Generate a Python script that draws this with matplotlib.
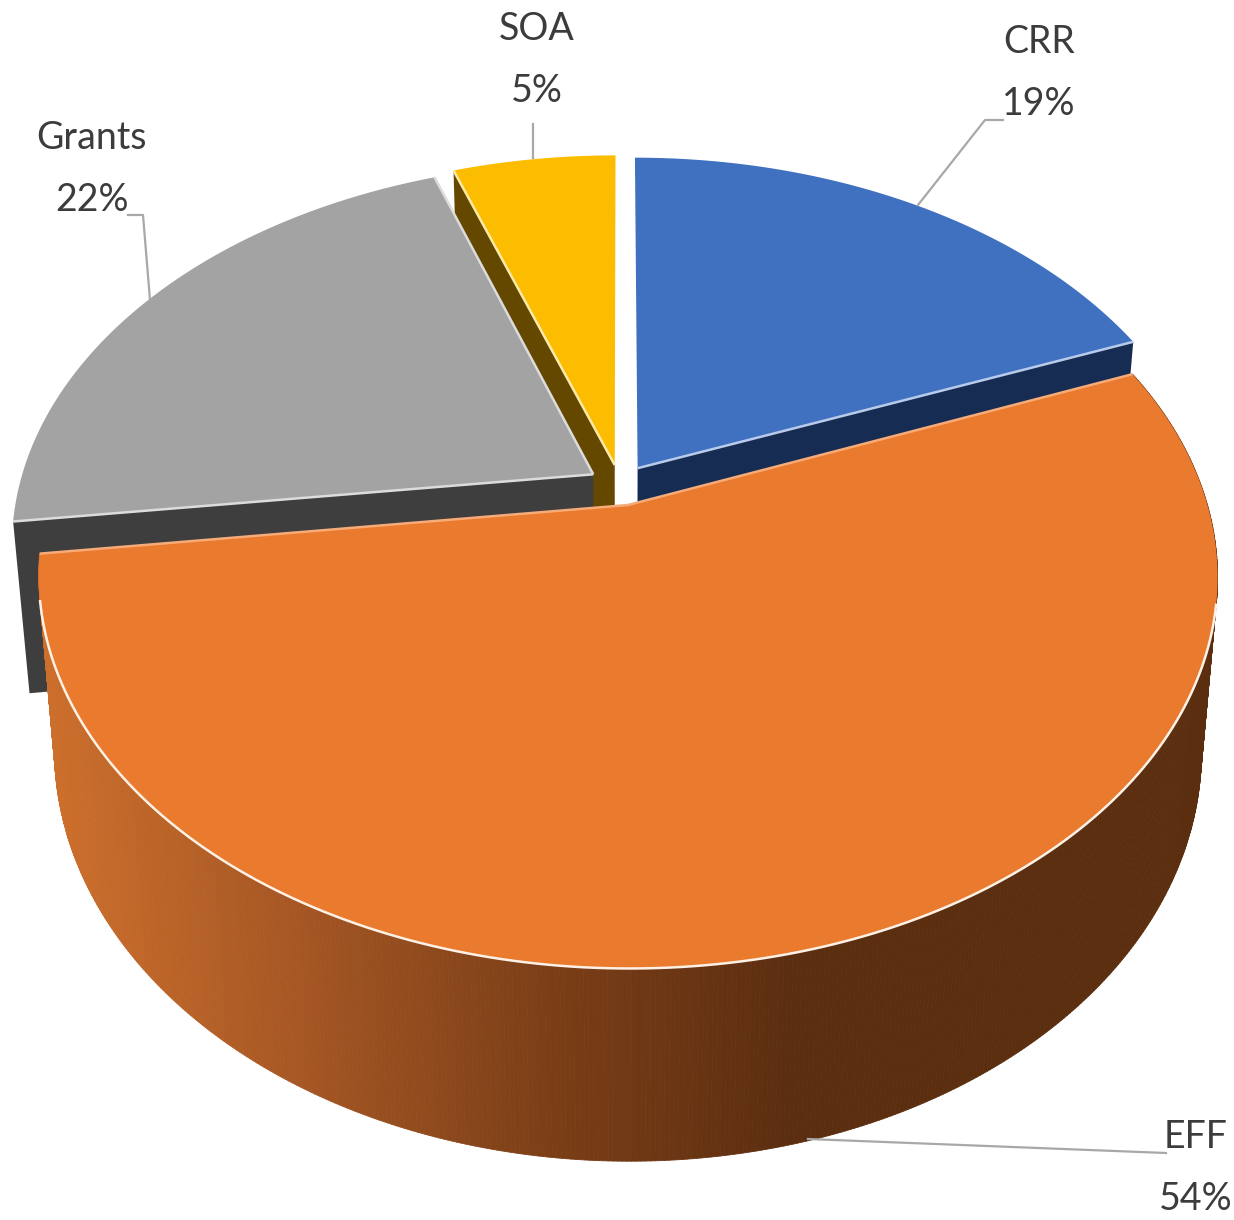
import numpy as np
import matplotlib
matplotlib.use("Agg")
import matplotlib.pyplot as plt
from matplotlib.collections import PolyCollection
from matplotlib.colors import LinearSegmentedColormap

plt.rcParams['font.family'] = ['Lato', 'DejaVu Sans']

# data, shown rounded on the labels
names = ["CRR", "EFF", "Grants", "SOA"]
shares = [19.0, 54.0, 21.6, 5.4]

# styles, same order as names
top_colors = ["#4070c0", "#ea7a2e", "#a3a3a3", "#fcbd00"]
wall_colors = ["#172c52", "#8a4a1c", "#3e3e3e", "#644800"]
edge_colors = ["#b9cbea", "#f7ab78", "#dcdcdc", "#fde9a8"]
label_pos = [(1039, 73), (1196, 1168), (92, 169), (537, 60)]
leaders = [
    [(918, 205), (985, 120), (1003, 120)],
    [(808, 1139), (1166, 1153)],
    [(150, 300), (143, 215), (128, 215)],
    [(533, 158), (533, 124)],
]

# pie geometry, in pixels of the reference
CX, CY = 620, 485
RX, RY = 574, 372
PERSP = 0.18
EXPLODE = 0.055
DEPTH = 170


def project(u, v, bottom=False):
    # disc coordinates to the picture, with a little perspective
    s = 1 / (1 + PERSP * v)
    x = CX + RX * u * s
    y = CY - RY * v * s
    if bottom:
        x = CX + (x - CX) * 0.973
        y = CY + (y - CY) * 1.047 + DEPTH
    return x, y


def slice_points(start, end, mid, bottom=False, n=200):
    ang = np.radians(np.linspace(start, end, n))
    off_u = EXPLODE * np.sin(np.radians(mid))
    off_v = EXPLODE * np.cos(np.radians(mid))
    rim = project(np.sin(ang) + off_u, np.cos(ang) + off_v, bottom)
    apex = project(off_u, off_v, bottom)
    return np.array(apex), np.column_stack(rim)


edges = np.cumsum([0] + shares) / sum(shares) * 360
slices = [(edges[i], edges[i + 1], (edges[i] + edges[i + 1]) / 2) for i in range(len(shares))]

fig = plt.figure(figsize=(12.34, 12.20), dpi=100)
ax = fig.add_axes([0, 0, 1, 1])
ax.set_xlim(0, 1234)
ax.set_ylim(1220, 0)
ax.axis("off")


def draw_wall(i, idx, z):
    apex, rim = slice_points(*slices[i])
    apex2, rim2 = slice_points(*slices[i], bottom=True)
    poly = [apex, rim[idx], rim2[idx], apex2]
    ax.fill(*zip(*poly), color=wall_colors[i], lw=0, zorder=z)


def draw_top(i, z, edge_idx=()):
    apex, rim = slice_points(*slices[i])
    ax.fill(*np.vstack([apex, rim]).T, color=top_colors[i], lw=0, zorder=z)
    for idx in edge_idx:
        ax.plot([apex[0], rim[idx][0]], [apex[1], rim[idx][1]], color=edge_colors[i], lw=1.8,
                zorder=z + 0.1, solid_capstyle="butt")


# SOA first, grants sits on top of its wall
draw_wall(3, 0, 1)
draw_top(3, 2, (0,))
draw_wall(2, 0, 3)
draw_top(2, 4, (0, -1))
draw_wall(0, -1, 5)
draw_top(0, 6, (-1,))

# orange side, strips coloured across x
shade = LinearSegmentedColormap.from_list("side", ["#cd6f2c", "#a65724", "#7c3f17", "#5c2e10", "#5c2e10"])
_, rim = slice_points(*slices[1], n=500)
_, rim2 = slice_points(*slices[1], bottom=True, n=500)
strips, strip_colors = [], []
for j in range(len(rim) - 1):
    strips.append([rim[j], rim[j + 1], rim2[j + 1], rim2[j]])
    strip_colors.append(shade(np.clip(((rim[j][0] + rim[j + 1][0]) / 2 - 40) / 1000, 0, 1)))
ax.add_collection(PolyCollection(strips, facecolors=strip_colors, edgecolors=strip_colors, linewidths=0.6, zorder=7))

draw_top(1, 8, (0, -1))
_, rim = slice_points(*slices[1])
# pale line where the face meets the side
visible = rim[:, 1] > 600
ax.plot(rim[visible, 0], rim[visible, 1], color="#fdf1e6", lw=1.8, zorder=8.2)

# labels and leader lines
for name, share, pos, leader in zip(names, shares, label_pos, leaders):
    ax.plot(*zip(*leader), color="#a8a8a8", lw=1.6, zorder=9)
    ax.text(pos[0], pos[1], f"{name}\n{share:.0f}%", ha="center", va="center", fontsize=27,
            color="#3c3c3c", linespacing=1.92, zorder=10)

fig.savefig("out.png", dpi=100)
